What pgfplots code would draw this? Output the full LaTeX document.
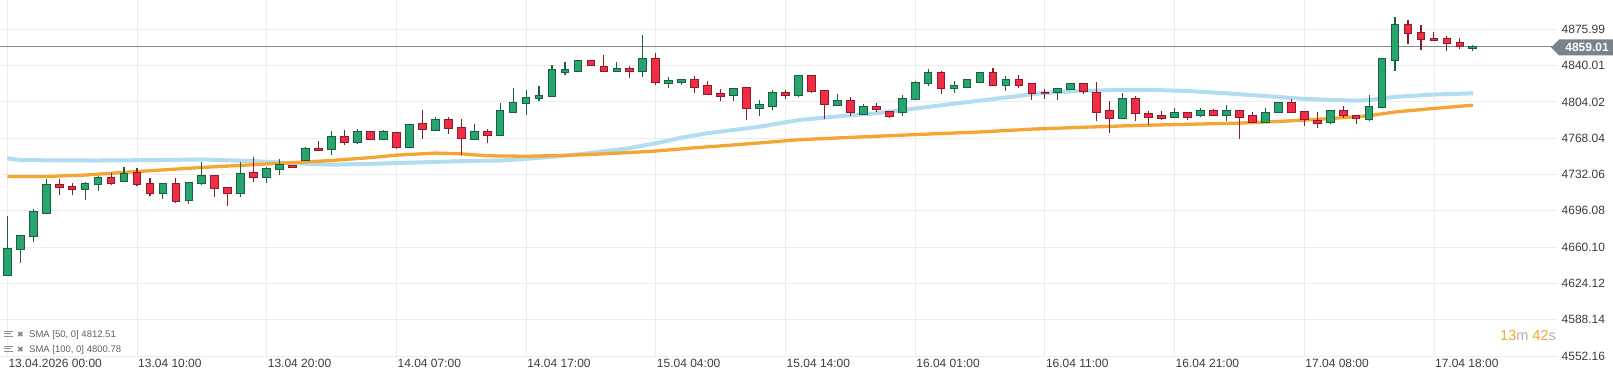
\documentclass[border=0pt]{standalone}
\usepackage{pgfplots}
\pgfplotsset{compat=1.18}
\usepackage{pgfplotstable}
\usepackage{fontspec}
\setmainfont{Liberation Sans}
\newfontfamily\symfont{DejaVu Sans}
\definecolor{gfill}{RGB}{38,166,110}
\definecolor{gdark}{RGB}{26,96,64}
\definecolor{rfill}{RGB}{240,45,68}
\definecolor{rdark}{RGB}{140,28,42}
\definecolor{smablue}{RGB}{178,220,240}
\definecolor{smaorange}{RGB}{245,165,50}
\definecolor{gridc}{RGB}{236,236,236}
\definecolor{tickc}{RGB}{60,60,60}
\definecolor{tagc}{RGB}{122,130,136}
\definecolor{pricec}{RGB}{135,135,135}
\definecolor{legc}{RGB}{95,95,95}
\definecolor{timerc}{RGB}{240,165,50}
\definecolor{timerg}{RGB}{175,175,175}

\pgfplotstableread{
x o h l c
0 4632.0 4691.1 4631.0 4659.1
1 4658.1 4672.5 4644.3 4672.0
2 4670.6 4697.8 4664.7 4695.8
3 4693.8 4727.5 4693.0 4721.9
6 4716.9 4724.6 4707.0 4723.6
7 4722.6 4730.8 4715.9 4729.5
9 4725.1 4739.4 4724.5 4733.1
12 4713.6 4724.1 4708.0 4722.9
14 4706.0 4725.1 4703.0 4723.9
15 4723.6 4744.7 4721.2 4731.5
18 4713.6 4744.0 4709.3 4733.5
20 4729.5 4739.7 4723.6 4738.4
21 4737.4 4747.6 4731.1 4742.4
23 4746.0 4759.2 4745.5 4758.2
25 4757.2 4775.4 4750.9 4770.1
27 4764.2 4777.1 4762.2 4775.1
29 4767.2 4776.4 4766.8 4775.1
31 4759.2 4782.5 4758.7 4782.0
33 4775.7 4789.0 4774.7 4787.0
36 4767.2 4782.0 4766.8 4775.1
38 4770.7 4802.8 4770.2 4795.2
39 4793.9 4817.7 4792.9 4803.8
40 4802.8 4816.0 4791.5 4808.8
41 4807.4 4820.0 4805.1 4810.4
42 4809.8 4840.8 4809.3 4835.8
43 4833.2 4843.1 4830.9 4835.8
44 4834.5 4845.9 4834.0 4845.4
47 4834.5 4843.8 4834.0 4837.5
49 4834.1 4870.5 4828.6 4847.4
51 4822.3 4828.6 4817.3 4824.9
52 4823.6 4826.9 4820.7 4825.9
56 4810.4 4818.2 4804.4 4817.7
58 4797.5 4805.4 4790.5 4801.8
59 4799.9 4815.3 4795.9 4813.0
61 4810.4 4830.4 4808.4 4829.9
64 4800.9 4811.8 4800.4 4805.1
66 4791.9 4802.1 4790.9 4799.9
69 4793.2 4811.1 4790.5 4807.8
70 4806.8 4825.2 4806.3 4823.6
71 4822.6 4836.8 4819.3 4833.6
73 4817.7 4824.6 4812.7 4820.0
74 4818.7 4826.4 4818.2 4825.9
75 4823.6 4834.1 4823.1 4833.6
77 4820.7 4829.9 4814.7 4826.6
81 4813.7 4818.2 4805.4 4817.7
82 4816.7 4823.1 4815.3 4822.6
86 4788.0 4813.3 4787.5 4807.8
90 4789.0 4797.9 4788.5 4793.9
92 4790.5 4797.9 4789.0 4795.9
94 4790.5 4801.1 4785.3 4795.2
97 4784.0 4797.9 4783.5 4793.9
98 4793.5 4804.3 4793.0 4803.8
102 4783.6 4796.4 4782.3 4795.9
105 4787.0 4811.1 4784.6 4799.5
106 4798.5 4847.4 4797.9 4846.7
107 4845.0 4888.6 4835.1 4880.4
113 4857.3 4859.9 4854.0 4859.0
}\greentab

\pgfplotstableread{
x o h l c
4 4721.9 4727.5 4711.3 4719.2
5 4720.6 4724.1 4712.0 4716.9
8 4729.5 4733.5 4721.2 4723.2
10 4733.8 4738.4 4720.2 4722.2
11 4723.6 4728.5 4710.3 4713.6
13 4722.9 4728.5 4703.7 4705.3
16 4731.5 4731.9 4709.3 4718.6
17 4719.6 4720.0 4700.4 4713.6
19 4733.8 4749.3 4725.1 4729.1
22 4741.4 4741.9 4738.0 4739.0
24 4758.2 4765.5 4754.9 4756.3
26 4770.1 4776.4 4761.5 4764.2
28 4775.1 4775.4 4766.8 4767.2
30 4774.1 4774.6 4757.8 4758.8
32 4783.0 4796.2 4767.7 4777.1
34 4787.0 4789.0 4772.1 4778.1
35 4779.0 4787.0 4751.6 4767.7
37 4775.1 4777.1 4763.2 4770.7
45 4845.4 4845.9 4839.1 4840.1
46 4839.5 4850.7 4833.2 4834.1
48 4837.5 4839.8 4827.2 4834.1
50 4847.4 4852.4 4820.7 4823.2
53 4825.9 4829.9 4812.7 4818.3
54 4820.0 4824.9 4811.3 4811.8
55 4812.0 4817.0 4804.4 4809.4
57 4818.7 4819.2 4785.6 4797.5
60 4813.0 4815.7 4806.4 4810.6
62 4829.9 4830.4 4812.7 4814.0
63 4815.7 4816.2 4787.0 4801.8
65 4805.1 4808.4 4790.2 4793.5
67 4799.9 4802.8 4793.5 4796.5
68 4794.9 4795.4 4788.0 4790.0
72 4833.6 4835.1 4811.4 4817.3
76 4833.6 4837.5 4820.2 4820.7
78 4826.6 4830.9 4817.7 4820.7
79 4822.0 4822.5 4806.1 4812.7
80 4813.7 4817.0 4806.6 4812.2
83 4822.6 4823.1 4811.8 4814.3
84 4813.7 4823.6 4784.6 4793.9
85 4795.2 4805.1 4773.1 4788.0
87 4807.8 4810.1 4784.6 4792.9
88 4792.2 4794.5 4781.3 4789.0
89 4790.2 4794.5 4785.6 4787.6
91 4793.9 4794.4 4786.3 4789.0
93 4795.2 4796.9 4790.0 4790.5
95 4795.2 4795.7 4767.5 4789.0
96 4790.2 4793.9 4783.5 4784.0
99 4803.4 4806.8 4793.4 4793.9
100 4794.9 4795.4 4780.3 4786.3
101 4785.6 4793.9 4778.6 4783.0
103 4795.5 4800.2 4787.6 4790.9
104 4790.9 4791.4 4782.3 4787.6
108 4880.4 4884.7 4861.3 4872.2
109 4873.2 4880.4 4855.0 4866.3
110 4867.2 4873.2 4864.4 4864.9
111 4867.2 4869.5 4854.0 4862.3
112 4863.3 4867.2 4856.3 4858.9
}\redtab

\pgfplotstableread{
x v
0 4748.1
1 4746.4
4 4746.0
7 4745.9
11 4746.3
15 4746.9
19 4745.3
22 4743.2
25 4741.8
28 4742.6
30 4743.4
33 4744.5
36 4745.6
38 4745.9
40 4747.6
42 4749.6
44 4752.0
46 4755.0
48 4758.2
50 4763.0
52 4768.6
54 4773.0
56 4776.2
58 4779.4
61 4786.0
64 4789.6
67 4792.7
70 4797.5
73 4802.2
76 4806.8
78 4810.0
80 4813.0
83 4815.0
86 4816.0
88 4816.0
91 4814.8
94 4812.5
97 4809.8
100 4807.0
102 4806.0
104 4805.2
105 4805.8
107 4809.0
110 4811.3
113 4812.51
}\smafifty

\pgfplotstableread{
x v
0 4730.1
3 4730.1
6 4731.5
10 4735.0
15 4739.0
20 4742.5
25 4745.9
28 4748.8
30 4751.2
33 4753.3
35 4752.5
37 4750.6
40 4750.1
43 4751.0
46 4752.5
50 4755.3
53 4758.5
57 4762.3
61 4766.5
65 4768.8
70 4771.6
75 4774.2
79 4777.0
83 4778.9
87 4780.6
91 4781.8
95 4783.0
98 4784.6
100 4786.0
102 4787.5
105 4790.3
107 4794.0
110 4797.5
113 4800.78
}\smahundred

\begin{document}
\begin{tikzpicture}
\begin{axis}[
  at={(0pt,22pt)}, anchor=south west,
  scale only axis, width=1557pt, height=356pt,
  xmin=-0.563, xmax=119.49, ymin=4552.16, ymax=4905,
  axis line style={draw=none},
  tick style={draw=none},
  xtick={0,10,20,30,40,50,60,70,80,90,100,110},
  xticklabels={13.04.2026 00:00,13.04 10:00,13.04 20:00,14.04 07:00,14.04 17:00,15.04 04:00,15.04 14:00,16.04 01:00,16.04 11:00,16.04 21:00,17.04 08:00,17.04 18:00},
  xticklabel style={anchor=north west, inner sep=0pt, xshift=1pt, yshift=-2.5pt, font=\fontsize{12}{14}\selectfont, text=tickc},
  ytick={4552.16,4588.14,4624.12,4660.10,4696.08,4732.06,4768.04,4804.02,4840.01,4875.99},
  yticklabels={4552.16,4588.14,4624.12,4660.10,4696.08,4732.06,4768.04,4804.02,4840.01,4875.99},
  yticklabel pos=right,
  yticklabel style={anchor=west, inner sep=0pt, xshift=4.5pt, font=\fontsize{12}{14}\selectfont, text=tickc},
  grid=major, major grid style={draw=gridc, line width=0.8pt},
]
% SMA lines
\addplot[smablue, line width=4pt, line join=round, forget plot] table[x=x, y=v] {\smafifty};
\addplot[smaorange, line width=3.3pt, line join=round, forget plot] table[x=x, y=v] {\smahundred};
% current price line
\addplot[pricec, line width=1pt, forget plot] coordinates {(-1,4859.01) (121,4859.01)};
% green candles: wicks, body outline, body fill
\addplot[draw=none, forget plot, error bars/.cd, y dir=plus, y explicit, error mark=none,
  error bar style={draw=gdark, line width=1.1pt}]
  table[x=x, y=l, y error expr={\thisrow{h}-\thisrow{l}}] {\greentab};
\addplot[draw=none, forget plot, error bars/.cd, y dir=plus, y explicit, error mark=none,
  error bar style={draw=gdark, line width=8.7pt}]
  table[x=x, y expr={\thisrow{o}-0.5}, y error expr={\thisrow{c}-\thisrow{o}+1}] {\greentab};
\addplot[draw=none, forget plot, error bars/.cd, y dir=plus, y explicit, error mark=none,
  error bar style={draw=gfill, line width=6.7pt}]
  table[x=x, y expr={\thisrow{o}+0.5}, y error expr={max(\thisrow{c}-\thisrow{o}-1,0)}] {\greentab};
% red candles
\addplot[draw=none, forget plot, error bars/.cd, y dir=plus, y explicit, error mark=none,
  error bar style={draw=rdark, line width=1.1pt}]
  table[x=x, y=l, y error expr={\thisrow{h}-\thisrow{l}}] {\redtab};
\addplot[draw=none, forget plot, error bars/.cd, y dir=plus, y explicit, error mark=none,
  error bar style={draw=rdark, line width=8.7pt}]
  table[x=x, y expr={\thisrow{c}-0.5}, y error expr={\thisrow{o}-\thisrow{c}+1}] {\redtab};
\addplot[draw=none, forget plot, error bars/.cd, y dir=plus, y explicit, error mark=none,
  error bar style={draw=rfill, line width=6.7pt}]
  table[x=x, y expr={\thisrow{c}+0.5}, y error expr={max(\thisrow{o}-\thisrow{c}-1,0)}] {\redtab};
\end{axis}
% price tag
\fill[tagc] (1551pt,330.5pt) -- (1559pt,338.5pt) -- (1613pt,338.5pt) -- (1613pt,322.5pt) -- (1559pt,322.5pt) -- cycle;
\node[anchor=center, inner sep=0pt, text=white, font=\fontsize{12}{14}\selectfont\bfseries] at (1587pt,330.5pt) {4859.01};
% countdown
\node[anchor=base east, inner sep=0pt, font=\fontsize{14.5}{16}\selectfont] at (1556pt,37.3pt)
  {\textcolor{timerc}{13}\textcolor{timerg}{m} \textcolor{timerc}{42}\textcolor{timerg}{s}};
% indicator legend
\foreach \yy/\txt in {40.7/{SMA [50, 0] 4812.51}, 25.9/{SMA [100, 0] 4800.78}} {
  \draw[legc!70, line width=1pt] (4pt,\yy pt+6pt) -- (13pt,\yy pt+6pt);
  \draw[legc!70, line width=1pt] (4pt,\yy pt+3.5pt) -- (11pt,\yy pt+3.5pt);
  \draw[legc!70, line width=1pt] (4pt,\yy pt+1pt) -- (13pt,\yy pt+1pt);
  \node[anchor=base west, inner sep=0pt, text=legc!80, font=\symfont\fontsize{8}{9}\selectfont] at (17pt,\yy pt) {✖};
  \node[anchor=base west, inner sep=0pt, text=legc, font=\fontsize{9.5}{11}\selectfont] at (29pt,\yy pt) {\txt};
}
\pgfresetboundingbox
\path[use as bounding box] (0,0) rectangle (1613pt,378pt);
\end{tikzpicture}
\end{document}
